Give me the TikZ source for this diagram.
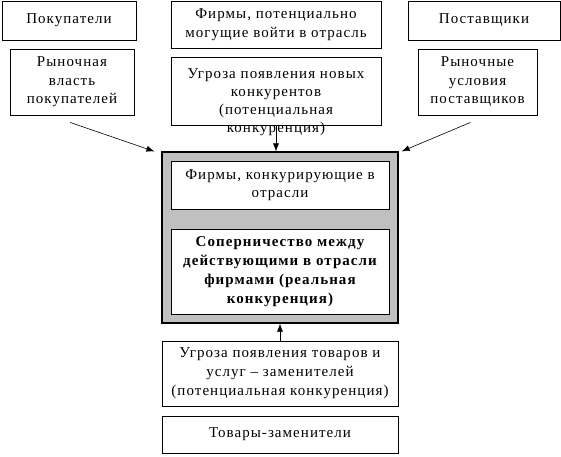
\documentclass[tikz,border=0pt]{standalone}
\usepackage{fontspec}
\setmainfont{Liberation Serif}[LetterSpace=7]
\usetikzlibrary{arrows.meta}
\definecolor{boxgrey}{RGB}{192,192,192}
\begin{document}
\begin{tikzpicture}[x=1pt,y=-1pt,
  box/.style={draw=black,line width=0.8pt,fill=white,inner sep=0pt,align=center,
    font=\fontsize{15}{18.5}\selectfont},
  txt/.style={inner sep=0pt,align=center,font=\fontsize{15}{18}\selectfont},
  arr/.style={line width=0.6pt,-{Latex[length=8pt,width=6pt]}}]
\useasboundingbox (0,0) rectangle (561,456);
\node[box,minimum width=134pt,minimum height=39pt] (pok) at (69,20.5) {Покупатели};
\node[box,minimum width=210pt,minimum height=47pt] (firm) at (276,24.5) {Фирмы, потенциально\\могущие войти в отрасль};
\node[box,minimum width=152pt,minimum height=39pt] (post) at (484,20.5) {Поставщики};
\node[box,minimum width=124pt,minimum height=66pt] (vlast) at (72,82) {Рыночная\\власть\\покупателей};
\node[box,minimum width=210pt,minimum height=68pt] (ugr) at (276,91) {};
\node[txt,anchor=north] (ugrt) at ([yshift=-12pt]ugr.north) {Угроза появления новых\\конкурентов\\(потенциальная\\конкуренция)};
\node[box,minimum width=119pt,minimum height=66pt] (usl) at (477.5,82) {Рыночные\\условия\\поставщиков};
\node[box,fill=boxgrey,line width=1.2pt,minimum width=236pt,minimum height=171pt] (grey) at (280,237.5) {};
\node[box,minimum width=218pt,minimum height=48pt] (in1) at (280,185) {Фирмы, конкурирующие в\\отрасли};
\node[box,minimum width=218pt,minimum height=85pt,font=\bfseries\fontsize{15}{19}\selectfont] (in2) at (280,271.5) {Соперничество между\\действующими в отрасли\\фирмами (реальная\\конкуренция)};
\node[box,minimum width=236pt,minimum height=65pt,font=\fontsize{15}{19}\selectfont] (b1) at (280,373.5) {Угроза появления товаров и\\услуг -- заменителей\\(потенциальная конкуренция)};
\node[box,minimum width=236pt,minimum height=37pt] (b2) at (280,434.5) {Товары-заменители};
\draw[arr] ([xshift=-2pt,yshift=-7pt]vlast.south) -- ([xshift=-7pt]grey.north west);
\draw[arr] (ugr.south) -- (ugr.south |- grey.north);
\draw[arr] ([xshift=-7pt,yshift=-7pt]usl.south) -- ([xshift=3pt]grey.north east);
\draw[arr] (b1.north) -- (grey.south);
\end{tikzpicture}
\end{document}
